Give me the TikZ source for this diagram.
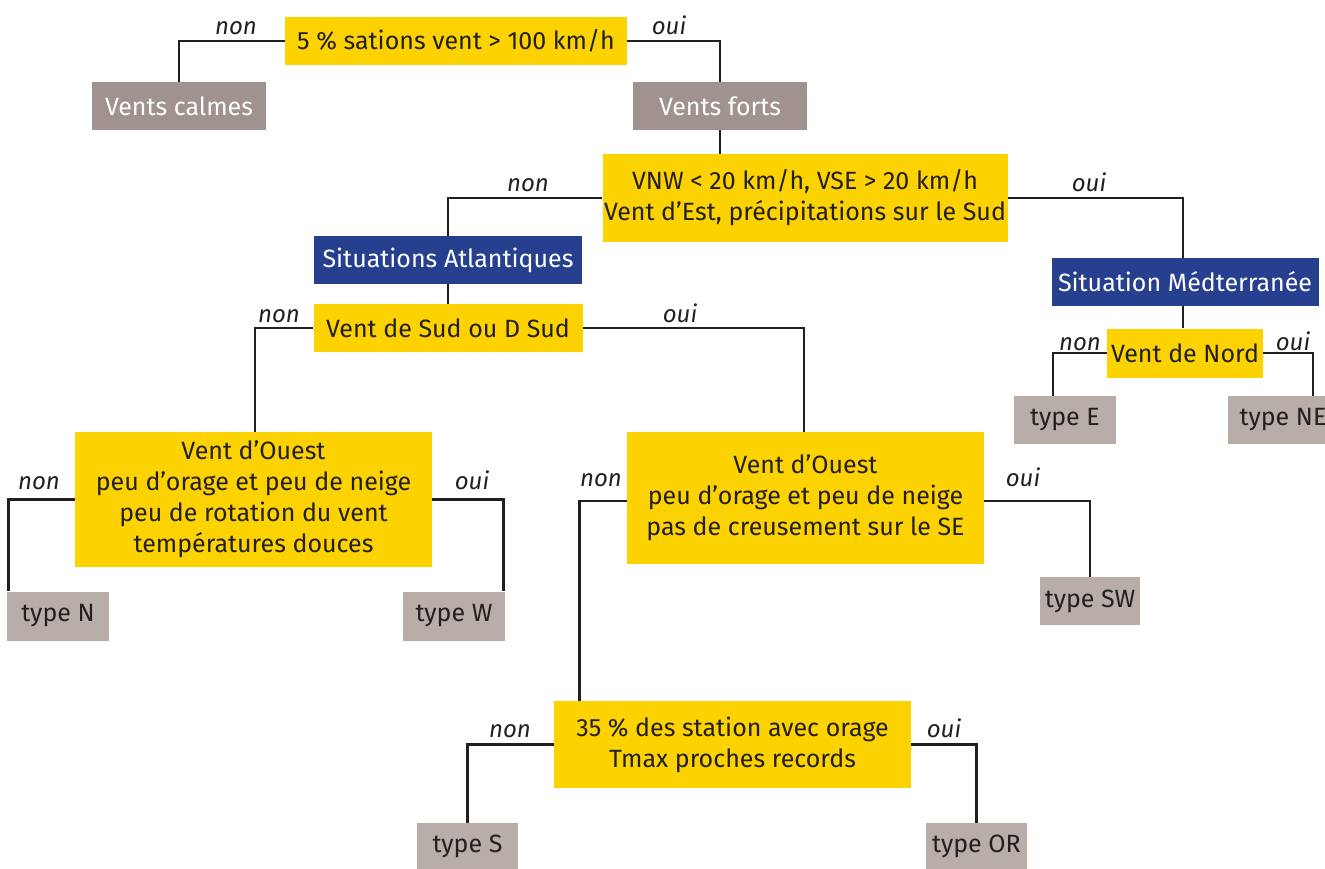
\documentclass[tikz,border=0pt]{standalone}
\usepackage{fontspec}
\setmainfont{Fira Sans}
\definecolor{yel}{HTML}{FCD200}
\definecolor{gdark}{HTML}{A0938F}
\definecolor{glight}{HTML}{B8ADA9}
\definecolor{blu}{HTML}{263F8E}
\definecolor{ink}{HTML}{231F20}
\begin{document}
\begin{tikzpicture}[x=1pt,y=-1pt,
  box/.style={inner sep=0pt, align=center, font=\fontsize{25}{31}\selectfont},
  qbox/.style={box, fill=yel, text=ink},
  gbox/.style={box, fill=gdark, text=white},
  bbox/.style={box, fill=blu, text=white},
  tbox/.style={box, fill=glight, text=ink},
  lab/.style={font=\fontsize{24}{28}\selectfont\itshape, text=ink, anchor=base, inner sep=0pt},
  conn/.style={draw=ink, line width=2.8pt}]
\useasboundingbox (0,0) rectangle (1325,868);
% nodes
\node[qbox, minimum width=342pt, minimum height=48pt] (q1) at (456,41) {5 \% sations vent > 100 km/h};
\node[gbox, minimum width=174pt, minimum height=48pt] (calm) at (179,106) {Vents calmes};
\node[gbox, minimum width=174pt, minimum height=48pt] (fort) at (720,106) {Vents forts};
\node[qbox, minimum width=405pt, minimum height=88pt] (q2) at (805,198) {VNW < 20 km/h, VSE > 20 km/h\\Vent d’Est, précipitations sur le Sud};
\node[bbox, minimum width=268pt, minimum height=48pt] (atl) at (448,260) {Situations Atlantiques};
\node[bbox, minimum width=267pt, minimum height=48pt] (med) at (1185,282) {Situation Médterranée};
\node[qbox, minimum width=269pt, minimum height=48pt] (q3) at (448,328) {Vent de Sud ou D Sud};
\node[qbox, minimum width=156pt, minimum height=49pt] (nord) at (1185,353) {Vent de Nord};
\node[tbox, minimum width=102pt, minimum height=48pt] (tE) at (1065,420) {type E};
\node[tbox, minimum width=110pt, minimum height=48pt] (tNE) at (1283,420) {type NE};
\node[qbox, minimum width=357pt, minimum height=135pt] (q4) at (253.5,499.5) {Vent d’Ouest\\peu d’orage et peu de neige\\peu de rotation du vent\\températures douces};
\node[qbox, minimum width=357pt, minimum height=132pt] (q5) at (805.5,498) {Vent d’Ouest\\peu d’orage et peu de neige\\pas de creusement sur le SE};
\node[tbox, minimum width=102pt, minimum height=49pt] (tN) at (58,616) {type N};
\node[tbox, minimum width=102pt, minimum height=49pt] (tW) at (454,616) {type W};
\node[tbox, minimum width=100pt, minimum height=48pt] (tSW) at (1090,601) {type SW};
\node[qbox, minimum width=357pt, minimum height=87pt] (q6) at (732.5,744.5) {35 \% des station avec orage\\Tmax proches records};
\node[tbox, minimum width=101pt, minimum height=46pt] (tS) at (467.5,846) {type S};
\node[tbox, minimum width=101pt, minimum height=46pt] (tOR) at (976.5,846) {type OR};
% connectors
\draw[conn] (q1.west) -| (calm.north);
\draw[conn] (q1.east) -| (fort.north);
\draw[conn] (fort.south) -- (fort.south |- q2.north);
\draw[conn] (q2.west) -| (atl.north);
\draw[conn] (q2.east) -| ([xshift=-2pt]med.north);
\draw[conn] (atl.south) -- (q3.north);
\draw[conn] ([xshift=-2pt]med.south) -- ([xshift=-2pt]med.south |- nord.north);
\draw[conn] (nord.west) -| ([xshift=-12pt]tE.north);
\draw[conn] (nord.east) -| ([xshift=30pt]tNE.north);
\draw[conn] (q3.west) -| ([xshift=1.5pt]q4.north);
\draw[conn] (q3.east) -| ([xshift=-1.5pt]q5.north);
\draw[conn] (q4.west) -| ([xshift=1.4pt]tN.north west);
\draw[conn] (q4.east) -| ([xshift=-1.4pt]tW.north east);
\draw[conn] ([yshift=-3pt]q5.west) -| ([xshift=26pt]q6.north west);
\draw[conn] ([yshift=-3pt]q5.east) -| (tSW.north);
\draw[conn] (q6.west) -| (tS.north);
\draw[conn] (q6.east) -| (tOR.north);
% labels
\node[lab] (l1) at (236,34) {non};
\node[lab] (l2) at (669,34) {oui};
\node[lab] (l3) at (528,191) {non};
\node[lab] (l4) at (1089,191) {oui};
\node[lab] (l5) at (279,322) {non};
\node[lab] (l6) at (680,322) {oui};
\node[lab] (l7) at (39,489) {non};
\node[lab] (l8) at (472,489) {oui};
\node[lab] (l9) at (601,486) {non};
\node[lab] (l10) at (1023,486) {oui};
\node[lab] (l11) at (510,737) {non};
\node[lab] (l12) at (944,737) {oui};
\node[lab] (l13) at (1080,350) {non};
\node[lab] (l14) at (1293,350) {oui};
\end{tikzpicture}
\end{document}
